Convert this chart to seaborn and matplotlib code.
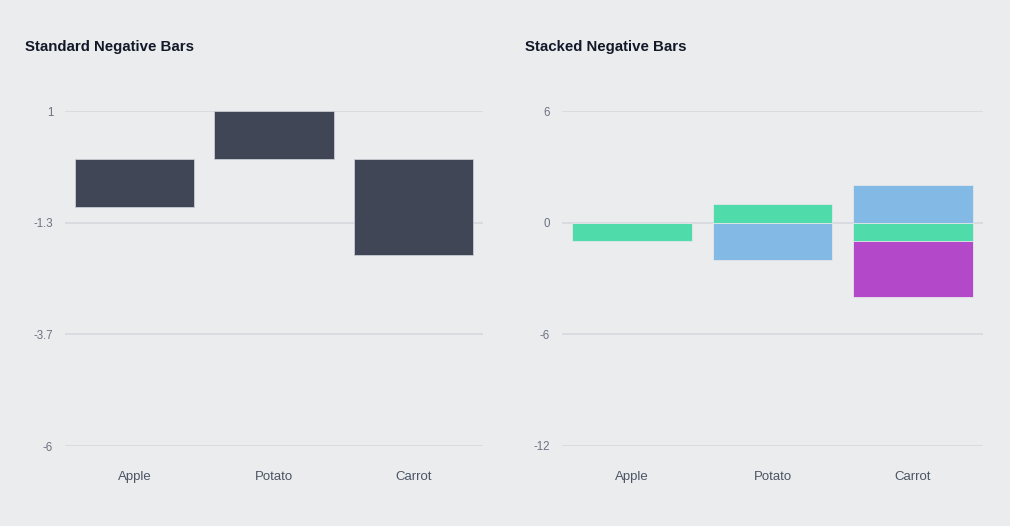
import numpy as np
import pandas as pd
import matplotlib
matplotlib.use("Agg")
import matplotlib.pyplot as plt
import seaborn as sns

# ---- data ----
categories = ["Apple", "Potato", "Carrot"]
standard_values = [-1, 1, -2]
left_ticks = [1, -4 / 3, -11 / 3, -6]
left_tick_labels = ["1", "-1.3", "-3.7", "-6"]

series_names = ["Green", "Blue", "Purple"]
series_green = [-1, 1, -1]
series_blue = [0, -2, 2]
series_purple = [0, 0, -3]
right_ticks = [6, 0, -6, -12]
right_tick_labels = ["6", "0", "-6", "-12"]

# ---- style ----
BG = "#ebecee"
GRID = "#d9dadf"
sns.set_theme(style="white")
plt.rcParams["font.family"] = ["Liberation Sans", "DejaVu Sans"]

fig = plt.figure(figsize=(10.1, 5.26), dpi=100)
fig.patch.set_facecolor(BG)

W, H = 1010, 526
def axpos(x0, x1, y0, y1):
    return [x0 / W, 1 - y1 / H, (x1 - x0) / W, (y1 - y0) / H]

ax1 = fig.add_axes(axpos(65, 483, 111, 446))
ax2 = fig.add_axes(axpos(562, 983, 111, 446))

for ax in (ax1, ax2):
    ax.set_facecolor(BG)
    for s in ax.spines.values():
        s.set_visible(False)
    ax.set_axisbelow(True)
    ax.yaxis.grid(True, color=GRID, linewidth=1.3)
    ax.xaxis.grid(False)

# left: standard bars
df_left = pd.DataFrame({"cat": categories, "val": standard_values})
sns.barplot(data=df_left, x="cat", y="val", order=categories, color="#404656",
            saturation=1, width=0.855, ax=ax1, edgecolor="#c9ccd3", linewidth=0.6,
            errorbar=None)
ax1.set_ylim(-6, 1)
ax1.set_yticks(left_ticks)
ax1.set_yticklabels(left_tick_labels)

# right: stacked bars (positive and negative stacks separately)
colors = {"Green": "#50dcaa", "Blue": "#82bae5", "Purple": "#b349c8"}
vals = {"Green": series_green, "Blue": series_blue, "Purple": series_purple}
pos = np.zeros(len(categories))
neg = np.zeros(len(categories))
ends = {}
for name in series_names:
    v = np.array(vals[name], dtype=float)
    e = np.where(v >= 0, pos + v, neg + v)
    e = np.where(v == 0, np.nan, e)
    pos = np.where(v > 0, pos + v, pos)
    neg = np.where(v < 0, neg + v, neg)
    ends[name] = e

for name in reversed(series_names):
    d = pd.DataFrame({"cat": categories, "val": ends[name]})
    sns.barplot(data=d, x="cat", y="val", order=categories, color=colors[name],
                saturation=1, width=0.855, ax=ax2, edgecolor="#e4e6ea",
                linewidth=0.6, errorbar=None)
ax2.set_ylim(-12, 6)
ax2.set_yticks(right_ticks)
ax2.set_yticklabels(right_tick_labels)

for ax in (ax1, ax2):
    ax.set_xlabel("")
    ax.set_ylabel("")
    ax.tick_params(axis="y", length=0, pad=8.5, labelsize=8.3, labelcolor="#6b7280")
    ax.tick_params(axis="x", length=0, pad=18, labelsize=9.5, labelcolor="#4b5563")

fig.text(25 / W, 1 - 47.5 / H, "Standard Negative Bars", fontsize=10.8,
         fontweight="bold", color="#111827", va="center", ha="left")
fig.text(525 / W, 1 - 47.5 / H, "Stacked Negative Bars", fontsize=10.8,
         fontweight="bold", color="#111827", va="center", ha="left")

fig.savefig("out.png", dpi=100, facecolor=BG)
